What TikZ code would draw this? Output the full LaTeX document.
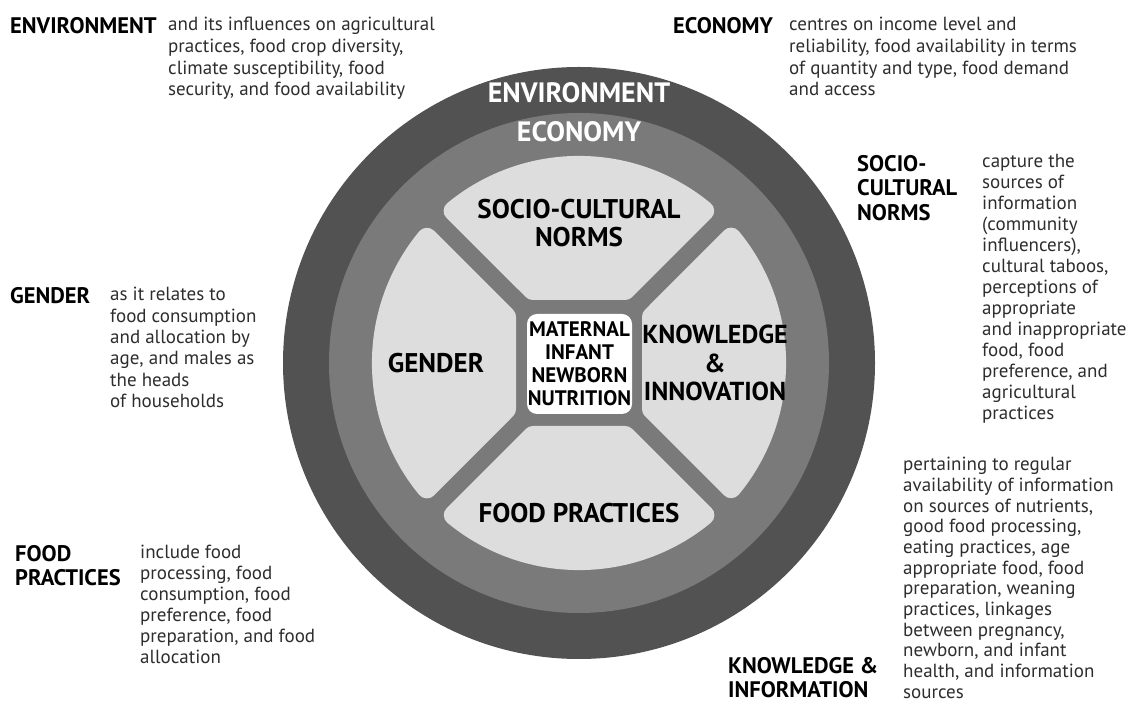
\documentclass[tikz,border=0pt]{standalone}
\usepackage{fontspec}
\setmainfont{PT Sans}
\definecolor{envgray}{RGB}{82,82,82}
\definecolor{ecogray}{RGB}{122,122,122}
\definecolor{petalgray}{RGB}{221,221,221}
\definecolor{textgray}{RGB}{45,45,45}

\begin{document}
\begin{tikzpicture}[x=1pt, y=1pt,
		heading/.style={anchor=north west, inner sep=0pt, align=left, font=\bfseries\fontsize{22.5}{24.5}\selectfont},
		blurb/.style={anchor=north west, inner sep=0pt, align=left, text=textgray, font=\fontsize{19}{21}\selectfont},
		ringlabel/.style={inner sep=0pt, text=white, font=\bfseries\fontsize{28}{30}\selectfont},
		part/.style={inner sep=0pt, align=center, font=\bfseries\fontsize{27}{28.5}\selectfont}]
	\useasboundingbox (0, 0) rectangle (1130, 704);

	% the wheel
	\fill[envgray] (579, 341) circle (296);
	\fill[ecogray] (579, 341) circle (250);
	\foreach \a in {0, 90, 180, 270}
		\filldraw[petalgray, line width=20pt, line join=round, shift={(579, 341)}, rotate=\a]
			(46.1, 73) -- (125.2, 152.1) arc[start angle=50.5, end angle=129.5, radius=197] -- (-46.1, 73) -- cycle;

	\node[ringlabel] (envring) at (579, 611) {ENVIRONMENT};
	\node[ringlabel] (ecoring) at (579, 572) {ECONOMY};
	\node[part] (socio) at (579, 481) {SOCIO-CULTURAL\\NORMS};
	\node[part] (gender) at (436, 341) {GENDER};
	\node[part, font=\bfseries\fontsize{26}{28.5}\selectfont] (knowledge) at (715, 341) {KNOWLEDGE\\\&\\INNOVATION};
	\node[part] (food) at (579, 191) {FOOD PRACTICES};
	\node[fill=white, rounded corners=10pt, minimum width=105pt, minimum height=100pt, inner sep=0pt, align=center,
		font=\bfseries\fontsize{21}{23}\selectfont] (mother) at (579.5, 340) {MATERNAL\\INFANT\\NEWBORN\\NUTRITION};

	% explanations round the wheel
	\node[heading] (envhead) at (10, 687) {ENVIRONMENT};
	\node[blurb, font=\fontsize{19}{21.7}\selectfont] (envtext) at (168, 687) {and its influences on agricultural\\practices, food crop diversity,\\climate susceptibility, food\\security, and food availability};

	\node[heading] (ecohead) at (673, 687) {ECONOMY};
	\node[blurb, font=\fontsize{19}{21.7}\selectfont] (ecotext) at (789, 687) {centres on income level and\\reliability, food availability in terms\\of quantity and type, food demand\\and access};

	\node[heading] (sociohead) at (857, 549) {SOCIO-\\CULTURAL\\NORMS};
	\node[blurb] (sociotext) at (982, 550) {capture the\\sources of\\information\\(community\\influencers),\\cultural taboos,\\perceptions of\\appropriate\\and inappropriate\\food, food\\preference, and\\agricultural\\practices};

	\node[heading] (genderhead) at (10, 417) {GENDER};
	\node[blurb, font=\fontsize{19}{21.4}\selectfont] (gendertext) at (110, 417) {as it relates to\\food consumption\\and allocation by\\age, and males as\\the heads\\of households};

	\node[heading] (foodhead) at (15, 159) {FOOD\\PRACTICES};
	\node[blurb] (foodtext) at (140, 159) {include food\\processing, food\\consumption, food\\preference, food\\preparation, and food\\allocation};

	\node[heading] (knowhead) at (728, 47) {KNOWLEDGE \&\\INFORMATION};
	\node[blurb, font=\fontsize{19}{20.7}\selectfont] (knowtext) at (903, 247) {pertaining to regular\\availability of information\\on sources of nutrients,\\good food processing,\\eating practices, age\\appropriate food, food\\preparation, weaning\\practices, linkages\\between pregnancy,\\newborn, and infant\\health, and information\\sources};
\end{tikzpicture}
\end{document}
